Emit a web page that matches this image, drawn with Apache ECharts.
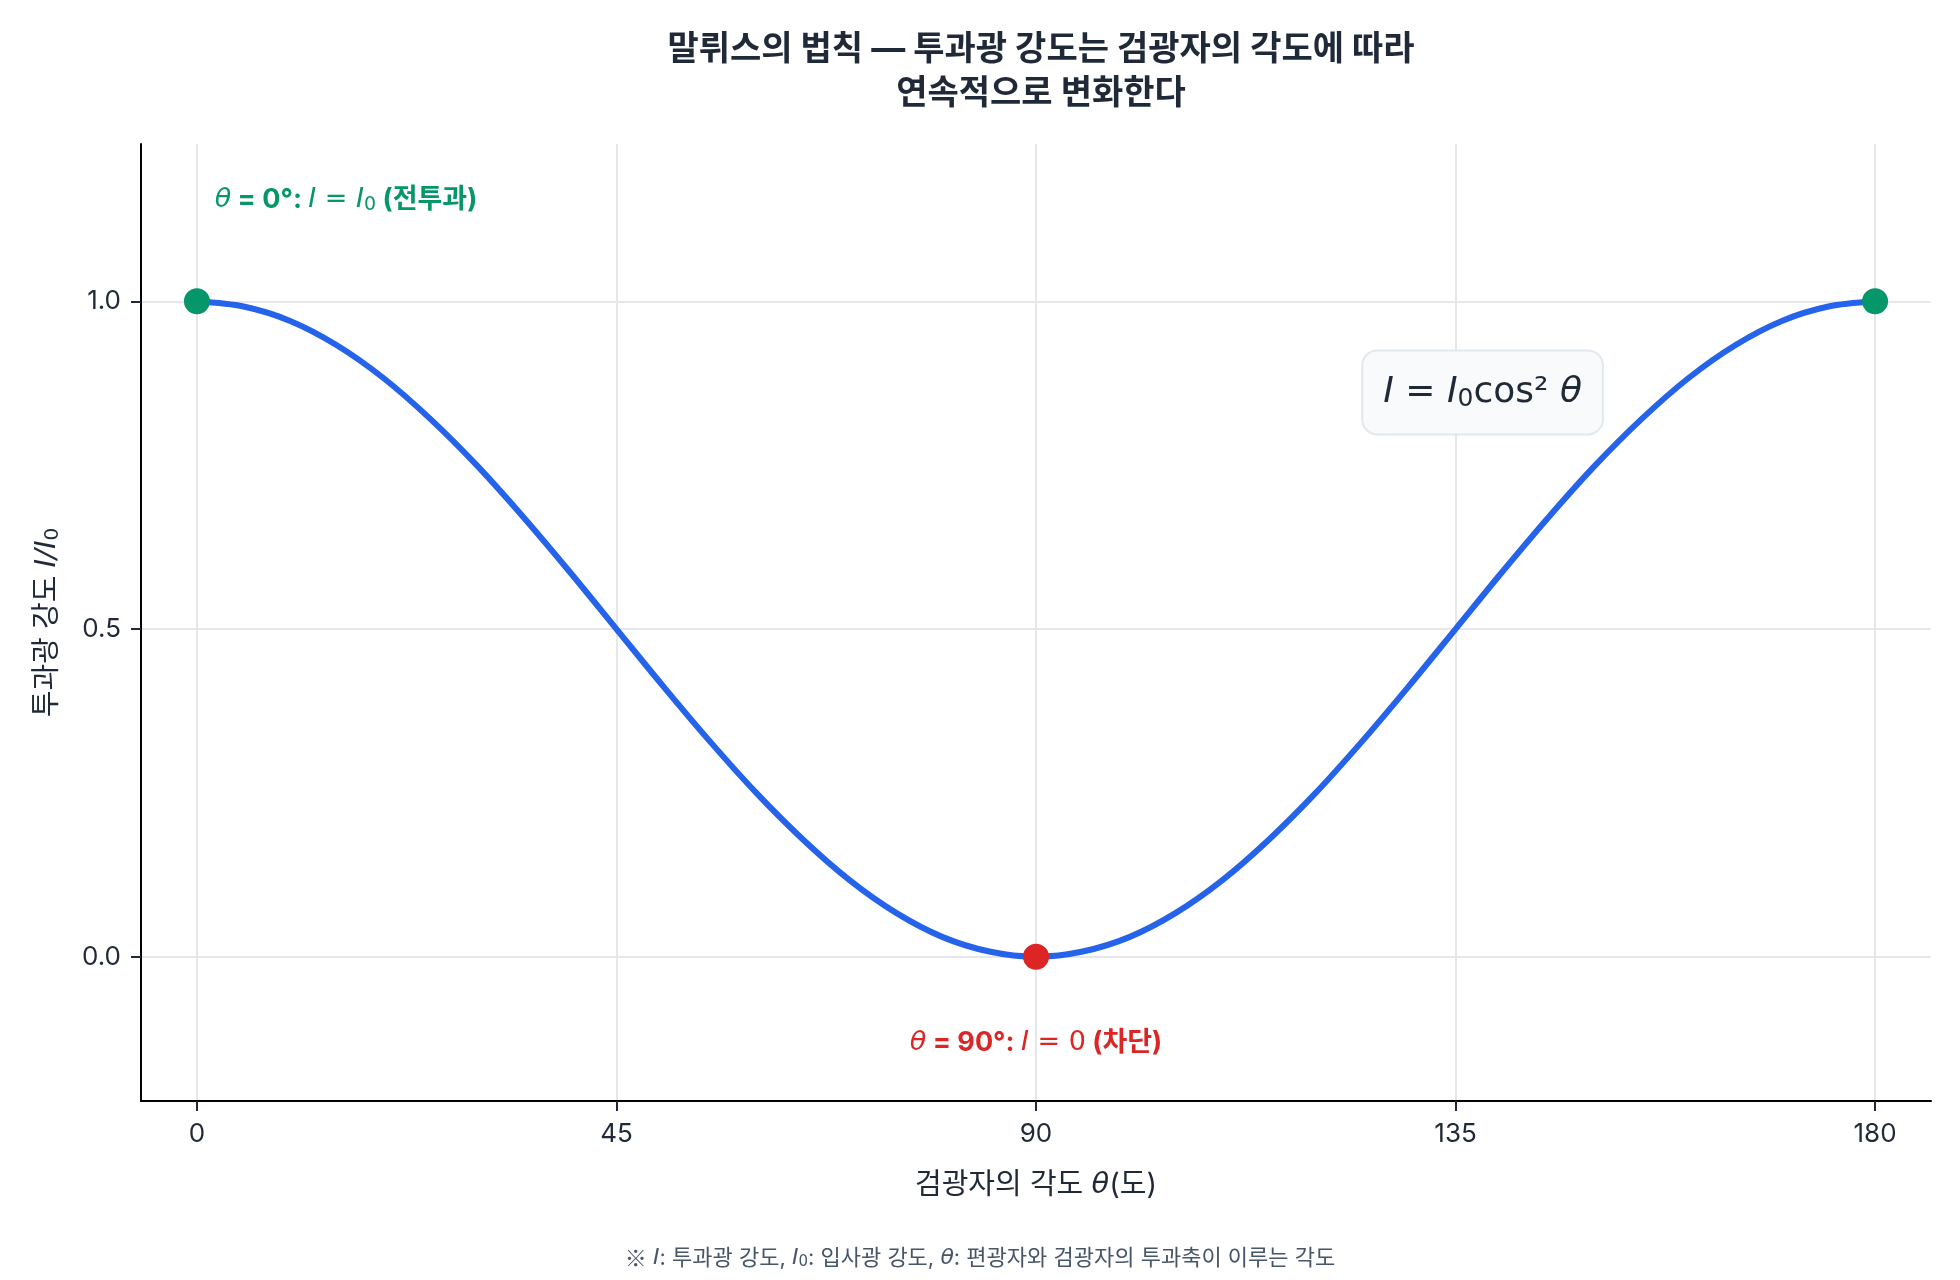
<!DOCTYPE html>
<html>
<head>
<meta charset="utf-8">
<script src="https://cdn.jsdelivr.net/npm/echarts@6/dist/echarts.min.js"></script>
<style>html,body{margin:0;padding:0;background:#fff}#c{width:1960px;height:1280px}</style>
</head>
<body>
<div id="c"></div>
<script>
// ---- data ----
const thetaDeg = [0,5,10,15,20,25,30,35,40,45,50,55,60,65,70,75,80,85,90,95,100,105,110,115,120,125,130,135,140,145,150,155,160,165,170,175,180];
const intensity = [1.000,0.992,0.970,0.933,0.883,0.821,0.750,0.671,0.587,0.500,0.413,0.329,0.250,0.179,0.117,0.067,0.030,0.008,0.000,0.008,0.030,0.067,0.117,0.179,0.250,0.329,0.413,0.500,0.587,0.671,0.750,0.821,0.883,0.933,0.970,0.992,1.000];
const passTheta = [0, 180];
const passI = [1.0, 1.0];
const blockTheta = [90];
const blockI = [0.0];
const xTicks = [0, 45, 90, 135, 180];
const yTicks = [0.0, 0.5, 1.0];

const titleText = '말뤼스의 법칙 — 투과광 강도는 검광자의 각도에 따라\n연속적으로 변화한다';
const xName = '검광자의 각도 {i|θ}(도)';
const yName = '투과광 강도 {i|I/I}{s|0}';
const passLabel = '{i|θ} = 0°: {i|I}{m| = }{i|I}{s|0} (전투과)';
const blockLabel = '{i|θ} = 90°: {i|I}{m| = 0} (차단)';
const formulaText = '{i|I}{m| = }{i|I}{s|0}{m|cos²}{m| }{i|θ}';
const footText = '{k|※} {i|I}: 투과광 강도, {i|I}{s|0}: 입사광 강도, {i|θ}: 편광자와 검광자의 투과축이 이루는 각도';

// ---- styling ----
const FONT = 'Inter, "Noto Sans CJK KR", sans-serif';
const CJK = '"Noto Sans CJK KR", sans-serif';
const MATH = '"DejaVu Sans", sans-serif';
const DARK = '#1f2937';
const BLUE = '#2563eb';
const GREEN = '#059669';
const RED = '#dc2626';
const GRID = '#e5e7eb';

const chart = echarts.init(document.getElementById('c'), null, {renderer: 'canvas'});

function axisRich(size) {
  const lh = Math.round(size * 1.1);
  return {
    i: {fontFamily: MATH, fontStyle: 'italic', fontSize: size, color: DARK, lineHeight: lh},
    s: {fontFamily: MATH, fontSize: Math.round(size * 0.7), color: DARK, verticalAlign: 'bottom', lineHeight: Math.round(size * 0.6)}
  };
}

chart.setOption({
  backgroundColor: '#ffffff',
  animation: false,
  title: {
    text: titleText,
    left: 1036,
    top: 23,
    textAlign: 'center',
    textStyle: {fontFamily: FONT, fontSize: 34, fontWeight: 'bold', color: DARK, lineHeight: 44}
  },
  grid: {left: 141, right: 29, top: 144, bottom: 179, containLabel: false},
  xAxis: {
    type: 'value', min: -6, max: 186,
    name: xName, nameLocation: 'middle', nameGap: 68,
    nameTextStyle: {fontFamily: FONT, fontSize: 29, color: DARK, lineHeight: 32, rich: axisRich(29)},
    axisLine: {show: true, onZero: false, lineStyle: {color: '#000', width: 2}},
    axisTick: {show: true, length: 10, lineStyle: {color: DARK, width: 2}, customValues: xTicks},
    axisLabel: {fontFamily: FONT, fontSize: 26, color: DARK, margin: 20, customValues: xTicks},
    splitLine: {show: true, lineStyle: {color: GRID, width: 2}}
  },
  yAxis: {
    type: 'value', min: -0.22, max: 1.24,
    name: yName, nameLocation: 'middle', nameGap: 78, nameRotate: 90,
    nameTextStyle: {fontFamily: FONT, fontSize: 29, color: DARK, lineHeight: 32, rich: axisRich(29)},
    axisLine: {show: true, onZero: false, lineStyle: {color: '#000', width: 2}},
    axisTick: {show: true, length: 10, lineStyle: {color: DARK, width: 2}, customValues: yTicks},
    axisLabel: {fontFamily: FONT, fontSize: 26, color: DARK, margin: 20, customValues: yTicks,
      formatter: v => Number(v).toFixed(1)},
    splitLine: {show: true, lineStyle: {color: GRID, width: 2}}
  },
  series: [
    {
      type: 'line', name: 'I/I0',
      data: thetaDeg.map((t, k) => [t, intensity[k]]),
      smooth: 0.3, showSymbol: false,
      lineStyle: {color: BLUE, width: 6}, z: 3
    },
    {
      type: 'scatter', name: 'pass',
      data: passTheta.map((t, k) => [t, passI[k]]),
      symbolSize: 26, itemStyle: {color: GREEN, opacity: 1}, z: 5
    },
    {
      type: 'scatter', name: 'block',
      data: blockTheta.map((t, k) => [t, blockI[k]]),
      symbolSize: 26, itemStyle: {color: RED, opacity: 1}, z: 5
    }
  ]
});

// annotation anchors (data coordinates)
const passAnchor = chart.convertToPixel({gridIndex: 0}, [1.9, 1.155]);
const blockAnchor = chart.convertToPixel({gridIndex: 0}, [90, -0.132]);
const formulaAnchor = chart.convertToPixel({gridIndex: 0}, [137.9, 0.861]);

function mathRich(size, color) {
  const lh = Math.round(size * 1.1);
  return {
    i: {fontFamily: MATH, fontStyle: 'italic', fontWeight: 'normal', fontSize: size, fill: color, lineHeight: lh},
    m: {fontFamily: MATH, fontStyle: 'normal', fontWeight: 'normal', fontSize: size, fill: color, lineHeight: lh},
    k: {fontFamily: CJK, fontStyle: 'normal', fontWeight: 'normal', fontSize: size, fill: color, lineHeight: lh},
    s: {fontFamily: MATH, fontStyle: 'normal', fontWeight: 'normal', fontSize: Math.round(size * 0.7), fill: color,
        verticalAlign: 'bottom', lineHeight: Math.round(size * 0.6)}
  };
}

chart.setOption({
  graphic: [
    {
      type: 'text', x: passAnchor[0], y: passAnchor[1], z: 10,
      style: {
        text: passLabel, fontFamily: FONT, fontSize: 27, fontWeight: 'bold', fill: GREEN, lineHeight: 30,
        align: 'left', verticalAlign: 'middle', rich: mathRich(27, GREEN)
      }
    },
    {
      type: 'text', x: blockAnchor[0], y: blockAnchor[1], z: 10,
      style: {
        text: blockLabel, fontFamily: FONT, fontSize: 27, fontWeight: 'bold', fill: RED, lineHeight: 30,
        align: 'center', verticalAlign: 'middle', rich: mathRich(27, RED)
      }
    },
    {
      type: 'text', x: formulaAnchor[0], y: formulaAnchor[1], z: 10,
      style: {
        text: formulaText, fontFamily: MATH, fontSize: 36, fill: DARK, lineHeight: 40,
        align: 'center', verticalAlign: 'middle',
        backgroundColor: '#f8fafc', borderColor: '#e2e8f0', borderWidth: 2, borderRadius: 14,
        padding: [21, 20, 21, 20],
        rich: mathRich(36, DARK)
      }
    },
    {
      type: 'text', x: 980, y: 1258, z: 10,
      style: {
        text: footText, fontFamily: FONT, fontSize: 22, fill: '#475569', lineHeight: 24,
        align: 'center', verticalAlign: 'middle', rich: mathRich(22, '#475569')
      }
    }
  ]
});
</script>
</body>
</html>
